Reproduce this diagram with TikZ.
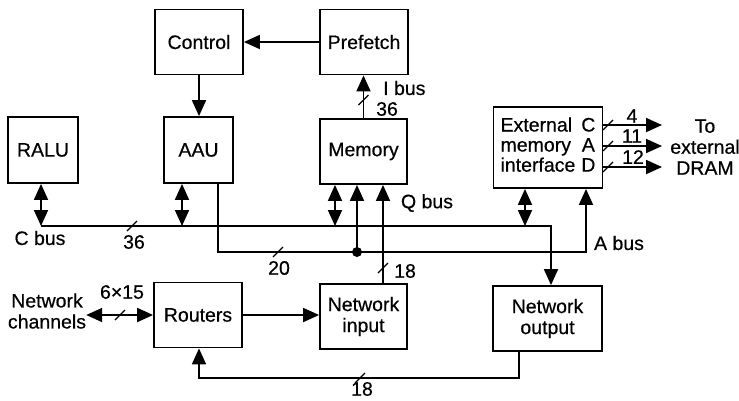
\documentclass[tikz,border=0pt]{standalone}
\usepackage{fontspec}
\setmainfont{Liberation Sans}[FakeBold=0.5]
\usetikzlibrary{arrows.meta,calc}
\begin{document}
\begin{tikzpicture}[x=1pt,y=-1pt,
  font=\fontsize{19.5}{21}\selectfont,
  box/.style={draw,line width=1.8pt,inner sep=0pt,align=center},
  wire/.style={line width=1.8pt},
  arr/.style={wire,-{Triangle[length=16pt,width=14pt]}},
  biarr/.style={wire,{Triangle[length=16pt,width=14pt]}-{Triangle[length=16pt,width=14pt]}},
  lbl/.style={inner sep=0pt,align=center},
  busmark/.pic={\draw[line width=1.3pt] (-5,5) -- (5,-5);}
]
\useasboundingbox (0,0) rectangle (739,400);

% blocks
\node[box,minimum width=88pt,minimum height=65pt] (ctl) at (199,42) {Control};
\node[box,minimum width=88pt,minimum height=65pt] (pre) at (364,42) {Prefetch};
\node[box,minimum width=70pt,minimum height=66pt] (ralu) at (43,150) {RALU};
\node[box,minimum width=69pt,minimum height=66pt] (aau) at (198.5,150) {AAU};
\node[box,minimum width=87pt,minimum height=65pt] (mem) at (363.5,151.5) {Memory};
\node[box,minimum width=109pt,minimum height=81pt] (ext) at (548,147.5)
  {\fontsize{19.5}{20}\selectfont\begin{tabular}{@{}l@{\hspace{6pt}}c@{}}External&C\\memory&A\\interface&D\end{tabular}};
\node[box,minimum width=88pt,minimum height=65pt] (rout) at (198,315) {Routers};
\node[box,minimum width=87pt,minimum height=65pt] (nin) at (363.5,316.5) {Network\\input};
\node[box,minimum width=109pt,minimum height=65pt] (nout) at (547.5,318.5) {Network\\output};

% free labels
\node[lbl] (nch) at (47,311) {Network\\channels};
\node[lbl] (dram) at (705,147) {\fontsize{19.5}{20}\selectfont To\\external\\DRAM};
\node[lbl] (cbus) at (40,238) {C bus};
\node[lbl] (abus) at (619,243) {A bus};
\node[lbl] (qbus) at (427,203) {Q bus};
\node[lbl,anchor=west] (ibus) at (383,88) {I bus};
\node[lbl,anchor=west] (n36i) at (376,109) {36};
\node[lbl] (n36c) at (134,242) {36};
\node[lbl] (n20) at (279,268) {20};
\node[lbl,anchor=west] (n18q) at (394,271) {18};
\node[lbl] (n18f) at (362,389) {18};
\node[lbl] (n615) at (122,292) {6×15};
\node[lbl] (n4) at (632,116) {4};
\node[lbl] (n11) at (632,136) {11};
\node[lbl] (n12) at (633,157) {12};

% helper coordinates
\coordinate (cb) at (0,226);
\coordinate (ab) at (0,252);
\coordinate (fb) at (0,378);
\coordinate (rC) at (0,125);
\coordinate (rA) at (0,146);
\coordinate (rD) at (0,167);
\coordinate (tipx) at (662,0);
\coordinate (ralC) at ([xshift=-2pt]ralu.south);
\coordinate (aauC) at ([xshift=-16.5pt]aau.south);
\coordinate (aauA) at ([xshift=19.5pt]aau.south);
\coordinate (memC) at ([xshift=-28.5pt]mem.south);
\coordinate (memA) at ([xshift=-6.5pt]mem.south);
\coordinate (memQ) at ([xshift=19.5pt]mem.south);
\coordinate (extC) at ([xshift=-23pt]ext.south);
\coordinate (extA) at ([xshift=38pt]ext.south);
\coordinate (noutC) at ([xshift=3.5pt]nout.north);
\coordinate (noutF) at ([xshift=-28.5pt]nout.south);
\coordinate (routF) at ([xshift=1pt]rout.south);

% connectors
\draw[arr] (pre) -- (ctl);
\draw[arr] (ctl.south) -- (aau.north -| ctl.south);
\draw[arr] (mem.north) -- (pre.south -| mem.north);
\draw[arr] (ralC |- cb) -| (noutC);
\draw[biarr] (ralC) -- (ralC |- cb);
\draw[biarr] (aauC) -- (aauC |- cb);
\draw[biarr] (memC) -- (memC |- cb);
\draw[biarr] (extC) -- (extC |- cb);
\draw[arr] (aauA) |- (extA |- ab) -- (extA);
\draw[arr] (memA |- ab) -- (memA);
\fill (memA |- ab) circle[radius=5pt];
\draw[arr] (nin.north -| memQ) -- (memQ);
\draw[arr] (rout) -- (nin.west |- rout);
\draw[biarr] (nch.east |- rout) -- (rout.west);
\draw[arr] (noutF) |- (routF |- fb) -- (routF);
\draw[arr] (ext.east |- rC) -- (tipx |- rC);
\draw[arr] (ext.east |- rA) -- (tipx |- rA);
\draw[arr] (ext.east |- rD) -- (tipx |- rD);

% bus width marks
\pic at (132,226) {busmark};
\pic at (278,252) {busmark};
\pic at (363.5,100) {busmark};
\pic at (383,268) {busmark};
\pic at (360,378) {busmark};
\pic at (120,315) {busmark};
\pic at (608,125) {busmark};
\pic at (608,146) {busmark};
\pic at (608,167) {busmark};
\end{tikzpicture}
\end{document}
